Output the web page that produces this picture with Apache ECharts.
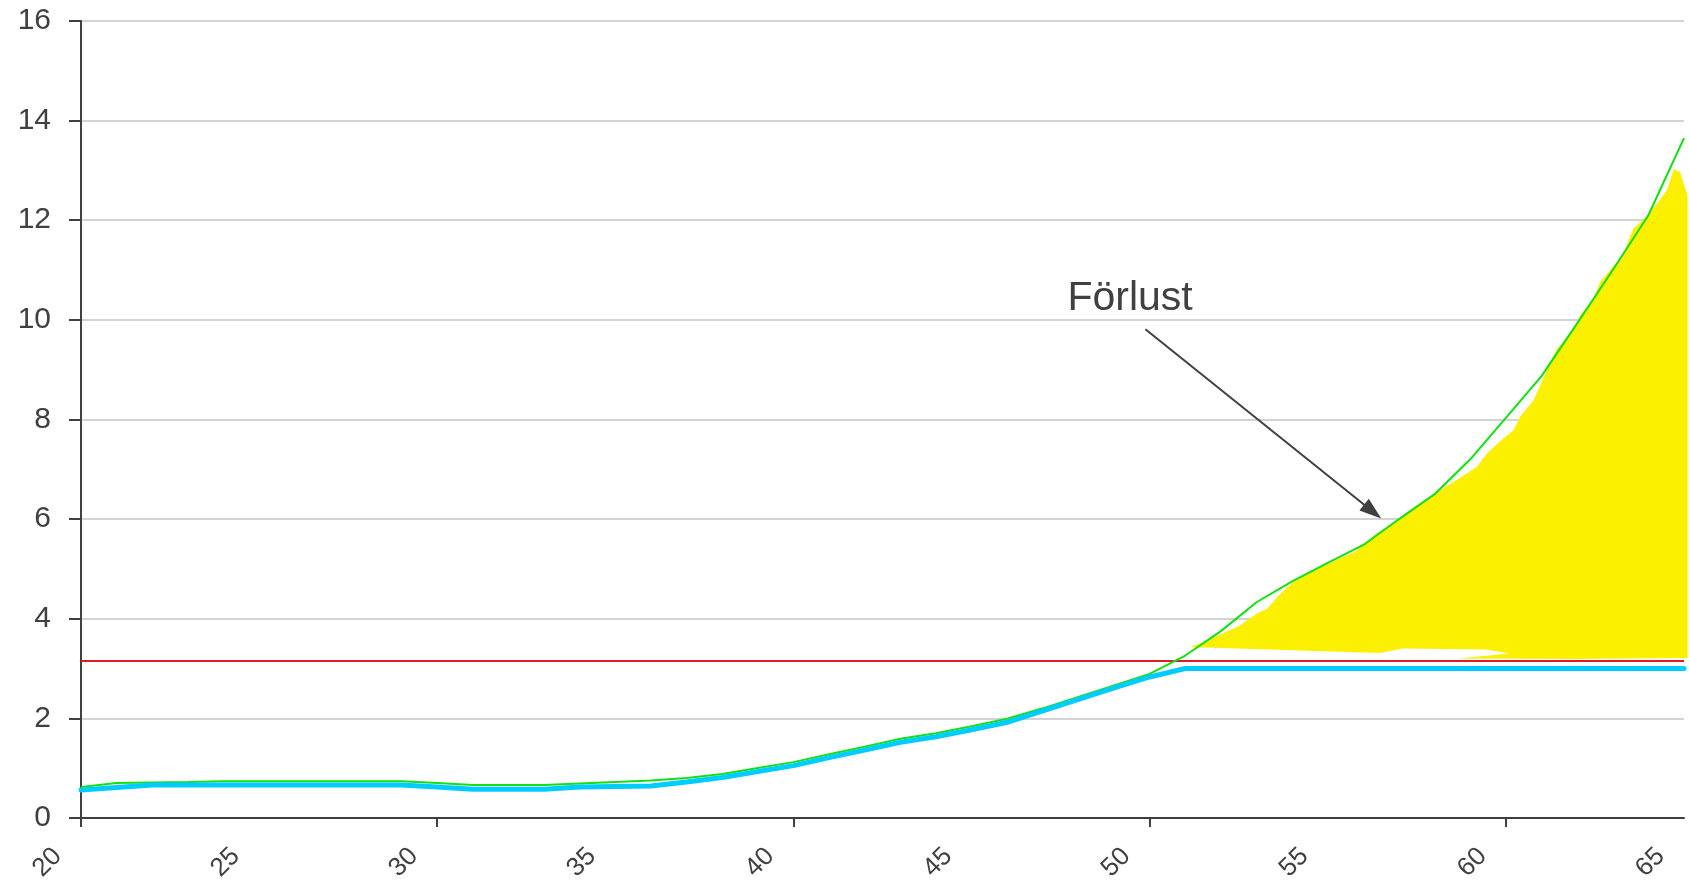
<!DOCTYPE html>
<html>
<head>
<meta charset="utf-8">
<title>Förlust</title>
<script src="https://cdn.jsdelivr.net/npm/echarts@6/dist/echarts.min.js"></script>
<style>
  html, body { margin: 0; padding: 0; background: #ffffff; }
  #chart { width: 1689px; height: 884px; }
</style>
</head>
<body>
<div id="chart"></div>
<script>
// Age along the horizontal axis
const ages = [20, 21, 22, 23, 24, 25, 26, 27, 28, 29,
              30, 31, 32, 33, 34, 35, 36, 37, 38, 39,
              40, 41, 42, 43, 44, 45, 46, 47, 48, 49,
              50, 51, 52, 53, 54, 55, 56, 57, 58, 59,
              60, 61, 62, 63, 64, 65];

// Uncapped level (green line)
const uncapped = [0.62, 0.70, 0.71, 0.72, 0.735, 0.735, 0.735, 0.735, 0.735, 0.735,
                  0.70, 0.66, 0.66, 0.66, 0.69, 0.72, 0.75, 0.80, 0.88, 1.00,
                  1.12, 1.28, 1.43, 1.59, 1.70, 1.84, 1.99, 2.20, 2.43, 2.66,
                  2.89, 3.26, 3.75, 4.33, 4.75, 5.12, 5.48, 6.00, 6.50, 7.20,
                  8.03, 8.87, 9.93, 11.00, 12.10, 13.65];

// Capped level (cyan line)
const capped = [0.56, 0.61, 0.66, 0.66, 0.66, 0.66, 0.66, 0.66, 0.66, 0.66,
                0.62, 0.575, 0.575, 0.575, 0.62, 0.63, 0.64, 0.72, 0.81, 0.93,
                1.05, 1.21, 1.36, 1.52, 1.63, 1.77, 1.92, 2.15, 2.38, 2.61,
                2.83, 3.00, 3.00, 3.00, 3.00, 3.00, 3.00, 3.00, 3.00, 3.00,
                3.00, 3.00, 3.00, 3.00, 3.00, 3.00];

// Ceiling (red line)
const ceilingAges = [20, 65];
const ceilingLevel = [3.15, 3.15];

// Outline of the shaded loss region: [age, value]
const lossOutline = [
  [51.14, 3.43], [51.6, 3.55], [52.1, 3.72], [52.5, 3.85], [52.84, 4.02],
  [53.05, 4.12], [53.3, 4.20], [53.6, 4.45], [54.0, 4.72], [54.4, 4.88],
  [54.85, 5.05], [55.3, 5.20], [55.8, 5.36], [56.38, 5.72], [56.57, 5.79],
  [57.04, 6.00], [57.5, 6.25], [57.97, 6.47], [58.25, 6.63], [58.63, 6.79],
  [59.19, 7.05], [59.47, 7.32], [59.84, 7.56], [60.22, 7.79], [60.4, 8.06],
  [60.78, 8.39], [61.25, 9.15], [61.43, 9.42], [61.81, 9.70], [62.0, 9.95],
  [62.09, 10.09], [62.46, 10.43], [62.65, 10.76], [62.93, 11.00], [63.3, 11.30],
  [63.44, 11.60], [63.58, 11.83], [63.87, 12.02], [64.24, 12.33], [64.52, 12.60],
  [64.71, 13.03], [64.89, 12.97], [64.99, 12.73], [65.1, 12.50],
  [65.1, 3.21], [62.0, 3.19], [58.65, 3.20], [60.1, 3.30], [59.45, 3.38],
  [57.1, 3.40], [56.45, 3.31], [51.14, 3.43]
];

// Axis ticks and labels
const xTickValues = [20, 30, 40, 50, 60];
const xLabelValues = [20, 25, 30, 35, 40, 45, 50, 55, 60, 65];

// Annotation
const noteText = 'Förlust';
const notePos = [47.69, 10.42];
const arrowFrom = [49.88, 9.81];
const arrowTo = [56.26, 6.15];

const axisColor = '#404040';

const chart = echarts.init(document.getElementById('chart'), null, { renderer: 'canvas' });

const option = {
  animation: false,
  backgroundColor: '#ffffff',
  grid: { left: 81, right: 5, top: 21, bottom: 65, containLabel: false },
  xAxis: {
    type: 'value',
    min: 20,
    max: 65,
    interval: 5,
    axisLine: { show: true, onZero: false, lineStyle: { color: axisColor, width: 2 } },
    axisTick: { show: true, length: 9, customValues: xTickValues, lineStyle: { color: axisColor, width: 2 } },
    axisLabel: {
      show: true,
      customValues: xLabelValues,
      rotate: 45,
      margin: 11,
      padding: [0, 33, 0, 0],
      color: axisColor,
      fontFamily: 'Liberation Sans, Arial, sans-serif',
      fontSize: 26
    },
    splitLine: { show: false }
  },
  yAxis: {
    type: 'value',
    min: 0,
    max: 16,
    interval: 2,
    axisLine: { show: true, onZero: false, lineStyle: { color: axisColor, width: 2 } },
    axisTick: { show: true, length: 12, lineStyle: { color: axisColor, width: 2 } },
    axisLabel: {
      margin: 30,
      color: axisColor,
      fontFamily: 'Liberation Sans, Arial, sans-serif',
      fontSize: 30
    },
    splitLine: { show: true, lineStyle: { color: '#c4c4c4', width: 1.5 } }
  },
  series: [
    {
      name: 'Förlust',
      type: 'custom',
      coordinateSystem: 'cartesian2d',
      clip: false,
      silent: true,
      z: 1,
      data: [lossOutline[0]],
      encode: { x: 0, y: 1 },
      renderItem: function (params, api) {
        return {
          type: 'polygon',
          shape: { points: lossOutline.map(function (p) { return api.coord(p); }) },
          style: { fill: '#faf000', stroke: null }
        };
      }
    },
    {
      name: 'Tak',
      type: 'line',
      z: 2,
      showSymbol: false,
      data: ceilingAges.map(function (a, i) { return [a, ceilingLevel[i]]; }),
      lineStyle: { color: '#e01b24', width: 2 },
      markLine: {
        silent: true,
        symbol: ['none', 'triangle'],
        symbolSize: [15, 22],
        label: { show: false },
        lineStyle: { color: axisColor, width: 2, type: 'solid' },
        data: [[{ coord: arrowFrom }, { coord: arrowTo }]]
      }
    },
    {
      name: 'Utan tak',
      type: 'line',
      z: 3,
      showSymbol: false,
      data: ages.map(function (a, i) { return [a, uncapped[i]]; }),
      lineStyle: { color: '#12e012', width: 2 }
    },
    {
      name: 'Med tak',
      type: 'line',
      z: 4,
      showSymbol: false,
      data: ages.map(function (a, i) { return [a, capped[i]]; }),
      lineStyle: { color: '#00ccff', width: 5, cap: 'round', join: 'round' }
    }
  ]
};

chart.setOption(option);

// Place the annotation text at its data position
const notePx = chart.convertToPixel({ gridIndex: 0 }, notePos);
chart.setOption({
  graphic: [{
    type: 'text',
    x: notePx[0],
    y: notePx[1],
    silent: true,
    style: {
      text: noteText,
      fill: axisColor,
      font: '41px "Liberation Sans", Arial, sans-serif',
      textAlign: 'left',
      textVerticalAlign: 'middle'
    }
  }]
});
</script>
</body>
</html>
